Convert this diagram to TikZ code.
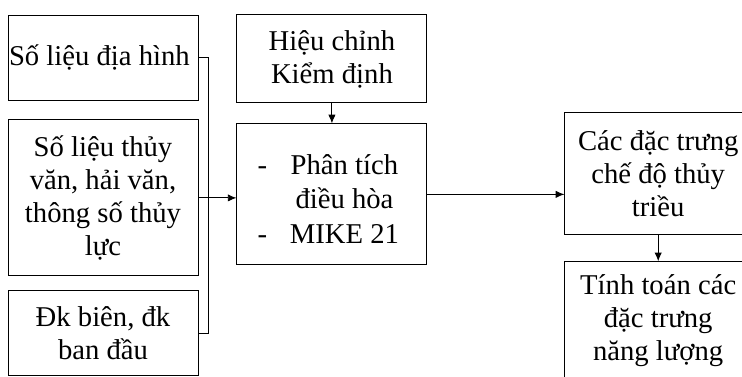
\documentclass[tikz,border=0pt]{standalone}
\usepackage{fontspec}
\setmainfont{Liberation Serif}
\usetikzlibrary{positioning,arrows.meta}
\tikzset{
  thin line/.style={line width=0.7pt},
  >={Latex[length=6.5pt,width=5.5pt]},
}

\begin{document}
\begin{tikzpicture}[thin line]
                    \tikzstyle{item}=[rectangle, draw=black, text centered,
                        align=center, inner sep=0pt, minimum width=142.5pt,
                        font=\fontsize{21.5}{24.75}\selectfont]
                    \useasboundingbox (0,0) rectangle (556.5pt,-282pt);

                    % input data
                    \node (DiaHinh) [item, minimum height=63.75pt]
                        at (77.25pt,-43.1pt)
                        {
                            Số liệu địa hình
                        };
                    \node (ThuyVan) [item, minimum height=117pt,
                        below= 14.25pt of DiaHinh]
                        {
                            Số liệu thủy\\văn, hải văn,\\thông số thủy\\lực
                        };
                    \node (DieuKien) [item, minimum height=63.75pt,
                        below= 10.5pt of ThuyVan]
                        {
                            Đk biên, đk\\ban đầu
                        };

                    % model
                    \node (HieuChinh) [item, minimum height=66pt,
                        right= 28.5pt of DiaHinh, yshift=-1.1pt]
                        {
                            Hiệu chỉnh\\Kiểm định
                        };
                    \node (MoHinh) [item, minimum height=105.75pt,
                        below= 15pt of HieuChinh]
                        {
                            \raisebox{-6pt}[\height][\depth]{%
                            \begin{tabular}{@{}c@{\hspace{17pt}}c@{}}
                                - & Phân tích\\[1pt]
                                  & điều hòa\\[1pt]
                                - & MIKE 21
                            \end{tabular}}
                        };

                    % results
                    \node (DacTrung) [item, minimum width=140pt,
                        minimum height=91.5pt,
                        right= 102.75pt of MoHinh, yshift=15.4pt]
                        {
                            Các đặc trưng\\chế độ thủy\\triều
                        };
                    \node (NangLuong) [item, minimum width=140pt,
                        minimum height=88.5pt,
                        below= 19.5pt of DacTrung]
                        {
                            Tính toán các\\đặc trưng\\năng lượng
                        };

                    % connectors
                    \coordinate (Bus) at ([xshift=7.5pt]DiaHinh.east);
                    \draw (DiaHinh.east) -- (Bus) |- (DieuKien.east);
                    \draw[->] (ThuyVan.east) -- (ThuyVan.east -| MoHinh.west);
                    \draw[->] (HieuChinh.south) -- (MoHinh.north);
                    \draw[->] (MoHinh.east) -- (MoHinh.east -| DacTrung.west);
                    \draw[->] (DacTrung.south) -- (NangLuong.north);
                \end{tikzpicture}
\end{document}
